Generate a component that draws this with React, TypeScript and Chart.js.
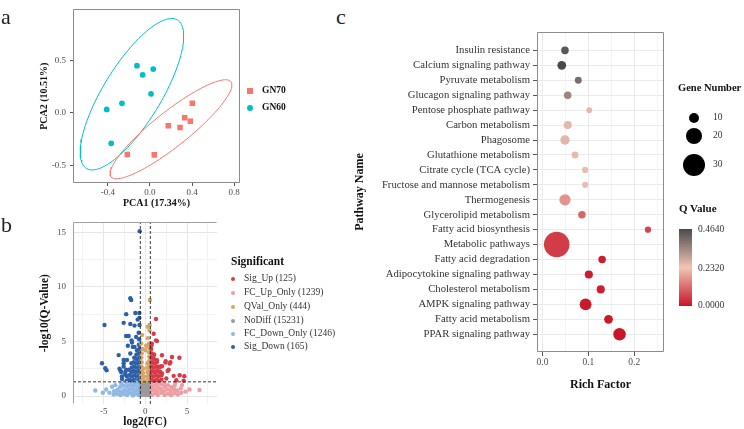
import React, { useEffect, useRef } from 'react';
import { Chart, registerables } from 'chart.js';

const SERIF = "'Liberation Serif', 'Times New Roman', serif";

// ---------------- Panel a: PCA ----------------
const pcaGroups = ['GN70', 'GN60'];
const pcaColors = ['#F8766D', '#00BFC4'];
const gn70PC1 = [0.403, 0.33, 0.384, 0.174, 0.286, -0.216, 0.041];
const gn70PC2 = [0.092, -0.046, -0.08, -0.122, -0.14, -0.397, -0.401];
const gn60PC1 = [-0.124, 0.031, -0.07, 0.01, -0.267, -0.412, -0.369];
const gn60PC2 = [0.452, 0.419, 0.364, 0.183, 0.092, 0.034, -0.291];
const pcaXTicks = [-0.4, 0, 0.4, 0.8];
const pcaYTicks = [-0.5, 0, 0.5];

// ---------------- Panel b: volcano ----------------
type Pt = [number, number];
const sigUp: Pt[] = [
  [0.75, 1.5], [0.72, 1.9], [0.78, 2.3], [0.74, 2.7], [0.77, 3.1], [0.73, 3.5], [0.76, 3.9], [0.71, 4.3], [0.78, 4.8],
  [1.05, 1.4], [1.02, 1.8], [1.08, 2.2], [1.04, 2.6], [1.07, 3.0], [1.03, 3.4], [1.06, 3.8],
  [1.35, 1.5], [1.32, 1.9], [1.38, 2.3], [1.34, 2.7], [1.37, 3.1],
  [1.65, 1.4], [1.62, 1.8], [1.68, 2.2], [1.64, 2.6], [1.95, 1.5], [1.92, 1.9],
  [1.28, 7.06], [1.4, 5.03], [1.28, 5.1], [0.72, 4.64], [1.0, 5.7], [4.08, 3.5], [3.2, 3.57], [3.0, 3.1],
  [2.4, 3.06], [2.45, 3.2], [2.8, 2.4], [2.68, 2.3], [1.8, 2.7], [2.0, 2.73], [3.4, 1.85], [4.68, 1.82],
  [4.12, 1.9], [3.72, 1.45], [4.6, 1.4], [2.0, 2.06], [2.52, 1.6], [2.0, 3.73], [2.92, 2.97], [1.8, 2.2],
  [1.0, 3.73], [1.4, 3.27], [1.6, 2.67],
];
const fcUpOnly: Pt[] = [
  [0.8, 0.1], [0.78, 0.5], [0.82, 0.85], [0.75, 1.2], [1.15, 0.25], [1.12, 0.6], [1.18, 1.0],
  [1.5, 0.1], [1.45, 0.45], [1.52, 0.8], [1.48, 1.2], [1.9, 0.3], [1.88, 0.65], [1.92, 1.05],
  [2.3, 0.1], [2.25, 0.45], [2.32, 0.85], [2.28, 1.2], [2.7, 0.2], [2.65, 0.6], [2.72, 1.0],
  [3.1, 0.1], [3.05, 0.45], [3.12, 0.8], [3.5, 0.25], [3.45, 0.6], [3.52, 0.95],
  [3.9, 0.15], [3.85, 0.5], [4.3, 0.3], [4.25, 0.7],
  [4.8, 0.4], [5.3, 0.6], [6.5, 0.55], [4.4, 1.0], [3.6, 1.2],
];
const qvalOnly: Pt[] = [
  [-0.45, 1.5], [-0.48, 1.9], [-0.42, 2.3], [-0.46, 2.7], [-0.44, 3.1], [-0.47, 3.5], [-0.43, 3.9],
  [-0.25, 1.4], [-0.22, 1.75], [-0.27, 2.1], [-0.24, 2.5],
  [0.25, 1.45], [0.22, 1.8], [0.27, 2.2], [0.24, 2.6], [0.26, 3.0],
  [0.45, 1.6], [0.48, 2.0], [0.43, 2.4], [0.46, 2.8], [0.44, 3.2], [0.47, 3.6], [0.42, 4.0], [0.46, 4.4], [0.44, 4.8],
  [-0.35, 4.3], [-0.5, 4.8], [0.3, 5.3], [0.5, 6.0], [0.52, 6.5], [0.28, 6.35], [0.55, 8.8], [-0.4, 5.6], [0.1, 4.6], [0.0, 4.2],
];
const noDiff: Pt[] = [
  [-0.5, 0.1], [-0.2, 0.12], [0.1, 0.08], [0.45, 0.1], [-0.35, 0.35], [0.02, 0.32], [0.3, 0.38], [0.52, 0.42],
  [-0.52, 0.6], [-0.15, 0.62], [0.15, 0.58], [0.45, 0.65], [-0.4, 0.88], [-0.05, 0.85], [0.25, 0.9], [0.5, 0.92],
  [-0.5, 1.15], [-0.2, 1.12], [0.1, 1.18], [0.4, 1.1], [-0.3, 0.2], [0.25, 0.2], [-0.1, 0.45], [0.35, 1.22],
];
const fcDownOnly: Pt[] = [
  [-0.8, 0.1], [-0.78, 0.45], [-0.82, 0.8], [-0.75, 1.15], [-1.15, 0.2], [-1.12, 0.55], [-1.18, 0.95], [-1.1, 1.25],
  [-1.5, 0.05], [-1.45, 0.4], [-1.52, 0.75], [-1.48, 1.1], [-1.85, 0.25], [-1.88, 0.6], [-1.82, 1.0],
  [-2.2, 0.1], [-2.25, 0.45], [-2.18, 0.85], [-2.22, 1.2], [-2.6, 0.2], [-2.55, 0.55], [-2.62, 0.95],
  [-3.0, 0.1], [-2.95, 0.4], [-3.05, 0.8], [-2.9, 1.15], [-3.4, 0.2], [-3.35, 0.55], [-3.8, 0.15], [-3.75, 0.45],
  [-4.3, 0.3], [-4.0, 0.85], [-5.1, 0.3], [-6.0, 0.5], [-4.7, 0.6], [-3.6, 1.0],
];
const sigDown: Pt[] = [
  [-0.75, 1.5], [-0.72, 1.9], [-0.78, 2.3], [-0.74, 2.7], [-0.77, 3.1], [-0.73, 3.5], [-0.76, 3.9], [-0.71, 4.3], [-0.78, 4.7], [-0.74, 5.2], [-0.8, 5.8],
  [-1.05, 1.4], [-1.02, 1.8], [-1.08, 2.2], [-1.04, 2.6], [-1.07, 3.0], [-1.03, 3.4], [-1.06, 3.8], [-1.0, 4.2],
  [-1.35, 1.5], [-1.32, 1.9], [-1.38, 2.3], [-1.34, 2.7], [-1.37, 3.1], [-1.33, 3.5],
  [-1.65, 1.4], [-1.62, 1.8], [-1.68, 2.2], [-1.64, 2.6], [-1.67, 3.0], [-1.95, 1.5], [-1.92, 1.9], [-1.98, 2.4], [-2.25, 1.4], [-2.22, 1.8],
  [-0.68, 15.1], [-1.8, 8.95], [-1.7, 8.8], [-2.3, 7.5], [-0.72, 7.6], [-1.2, 7.6], [-0.72, 7.15], [-0.92, 7.0],
  [-4.9, 6.5], [-2.6, 6.7], [-1.8, 6.6], [-1.3, 6.45], [-0.7, 6.5], [-2.3, 5.5], [-2.0, 5.5], [-1.65, 5.1],
  [-1.1, 5.4], [-1.6, 4.9], [-2.1, 4.6], [-1.5, 4.5], [-1.3, 4.5], [-3.2, 3.75], [-1.8, 3.9], [-2.6, 3.3],
  [-2.2, 3.3], [-5.2, 3.0], [-2.6, 3.0], [-4.8, 2.55], [-4.65, 2.35], [-3.0, 2.35], [-2.9, 2.2], [-3.1, 2.5],
  [-2.6, 2.7], [-2.4, 2.2], [-2.3, 2.4], [-2.8, 1.8], [-2.8, 1.55], [-2.4, 2.0],
];
const volcanoNames = ['Sig_Up (125)', 'FC_Up_Only (1239)', 'QVal_Only (444)', 'NoDiff (15231)', 'FC_Down_Only (1246)', 'Sig_Down (165)'];
const volcanoColors = ['#D93A48', '#EE9DA3', '#D4A66A', '#9A9A9A', '#8FB8E6', '#2D60A8'];
const volcanoSets = [sigUp, fcUpOnly, qvalOnly, noDiff, fcDownOnly, sigDown];
const fcCut = 0.6;
const qCut = 1.3;
const volXMajor = [-5, 0, 5];
const volXMinor = [-7.5, -2.5, 2.5, 7.5];
const volYMajor = [0, 5, 10, 15];
const volYMinor = [2.5, 7.5, 12.5];

// ---------------- Panel c: KEGG bubble ----------------
const pathways = [
  'Insulin resistance', 'Calcium signaling pathway', 'Pyruvate metabolism', 'Glucagon signaling pathway',
  'Pentose phosphate pathway', 'Carbon metabolism', 'Phagosome', 'Glutathione metabolism',
  'Citrate cycle (TCA cycle)', 'Fructose and mannose metabolism', 'Thermogenesis', 'Glycerolipid metabolism',
  'Fatty acid biosynthesis', 'Metabolic pathways', 'Fatty acid degradation', 'Adipocytokine signaling pathway',
  'Cholesterol metabolism', 'AMPK signaling pathway', 'Fatty acid metabolism', 'PPAR signaling pathway',
];
const richFactor = [0.049, 0.042, 0.078, 0.055, 0.102, 0.055, 0.049, 0.071, 0.093, 0.093, 0.049, 0.086, 0.23, 0.031, 0.13, 0.101, 0.127, 0.094, 0.144, 0.168];
const geneNumber = [6, 8, 5, 6, 3, 7, 9, 5, 4, 4, 12, 6, 4, 35, 6, 7, 7, 13, 8, 14];
const qValue = [0.44, 0.464, 0.397, 0.352, 0.255, 0.252, 0.258, 0.25, 0.244, 0.246, 0.167, 0.107, 0.062, 0.053, 0.012, 0.012, 0.016, 0.006, 0.008, 0.004];
const geneLegend = [10, 20, 30];
const qLegend = ['0.4640', '0.2320', '0.0000'];
const richXMajor = [0, 0.1, 0.2];
const richXMinor = [0.05, 0.15, 0.25];

// ---------------- helpers ----------------
const Q_LOW = [200, 20, 40];
const Q_MID = [241, 197, 181];
const Q_HIGH = [74, 74, 74];
const Q_MAX = 0.464;
const rgb = (c: number[]) => `rgb(${c.map((v) => Math.round(v)).join(',')})`;
const mix = (a: number[], b: number[], t: number) => a.map((v, i) => v + (b[i] - v) * t);
function qColor(q: number) {
  const m = Q_MAX / 2;
  if (q <= m) return rgb(mix(Q_LOW, Q_MID, q / m));
  return rgb(mix(Q_MID, Q_HIGH, Math.min(1, (q - m) / m)));
}
const sizeFromGenes = (n: number) => 1.9 + 0.31 * n;
const isIn = (arr: number[], v: number) => arr.some((a) => Math.abs(a - v) < 1e-9);

function ellipse(xs: number[], ys: number[], k: number) {
  const n = xs.length;
  const mx = xs.reduce((s, v) => s + v, 0) / n;
  const my = ys.reduce((s, v) => s + v, 0) / n;
  let sxx = 0, syy = 0, sxy = 0;
  for (let i = 0; i < n; i++) {
    const dx = xs[i] - mx, dy = ys[i] - my;
    sxx += dx * dx; syy += dy * dy; sxy += dx * dy;
  }
  sxx /= n - 1; syy /= n - 1; sxy /= n - 1;
  const tr = sxx + syy, det = sxx * syy - sxy * sxy;
  const disc = Math.sqrt(Math.max(0, (tr * tr) / 4 - det));
  const l1 = tr / 2 + disc, l2 = tr / 2 - disc;
  const th = 0.5 * Math.atan2(2 * sxy, sxx - syy);
  const a = k * Math.sqrt(l1), b = k * Math.sqrt(Math.max(l2, 0));
  const pts: { x: number; y: number }[] = [];
  for (let i = 0; i <= 120; i++) {
    const t = (i / 120) * Math.PI * 2;
    pts.push({
      x: mx + a * Math.cos(t) * Math.cos(th) - b * Math.sin(t) * Math.sin(th),
      y: my + a * Math.cos(t) * Math.sin(th) + b * Math.sin(t) * Math.cos(th),
    });
  }
  return pts;
}

const framePlugin = {
  id: 'frame',
  afterDatasetsDraw(chart: any, _args: any, opts: any) {
    if (!opts || !opts.sides) return;
    const { left, top, right, bottom } = chart.chartArea;
    const ctx = chart.ctx;
    const L = Math.round(left) + 0.5, T = Math.round(top) + 0.5, R = Math.round(right) - 0.5, B = Math.round(bottom) - 0.5;
    ctx.save();
    ctx.strokeStyle = opts.color || '#888';
    ctx.lineWidth = 1;
    ctx.beginPath();
    for (const s of opts.sides) {
      if (s === 'top') { ctx.moveTo(L, T); ctx.lineTo(R, T); }
      if (s === 'bottom') { ctx.moveTo(L, B); ctx.lineTo(R, B); }
      if (s === 'left') { ctx.moveTo(L, T); ctx.lineTo(L, B); }
      if (s === 'right') { ctx.moveTo(R, T); ctx.lineTo(R, B); }
    }
    ctx.stroke();
    ctx.restore();
  },
};

Chart.register(...registerables, framePlugin);

const font = (size: number, bold = false) => ({ family: SERIF, size, weight: bold ? 'bold' : 'normal' });

// ---------------- chart configs ----------------
function pcaConfig(): any {
  const pts = (xs: number[], ys: number[]) => xs.map((x, i) => ({ x, y: ys[i] }));
  return {
    type: 'scatter',
    data: {
      datasets: [
        { label: pcaGroups[0], data: pts(gn70PC1, gn70PC2), pointStyle: 'rect', pointRadius: 3.9, backgroundColor: pcaColors[0], borderWidth: 0 },
        { label: pcaGroups[1], data: pts(gn60PC1, gn60PC2), pointStyle: 'circle', pointRadius: 2.9, backgroundColor: pcaColors[1], borderWidth: 0 },
        { label: 'e70', data: ellipse(gn70PC1, gn70PC2, 2.6), showLine: true, pointRadius: 0, borderColor: pcaColors[0], borderWidth: 1, fill: false },
        { label: 'e60', data: ellipse(gn60PC1, gn60PC2, 2.75), showLine: true, pointRadius: 0, borderColor: pcaColors[1], borderWidth: 1, fill: false },
      ],
    },
    options: {
      responsive: false, animation: false, events: [],
      layout: { padding: { top: 2, right: 10, left: 0, bottom: 0 } },
      plugins: { legend: { display: false }, tooltip: { enabled: false }, frame: { sides: ['top', 'bottom', 'left', 'right'], color: '#8c8c8c' } },
      scales: {
        x: {
          type: 'linear', min: -0.733, max: 0.857,
          afterFit: (s: any) => { s.height = 32; },
          afterBuildTicks: (s: any) => { s.ticks = pcaXTicks.map((v) => ({ value: v })); },
          ticks: { callback: (v: number) => v.toFixed(1), font: font(9), color: '#4d4d4d', padding: 1, maxRotation: 0, autoSkip: false },
          grid: { display: true, drawOnChartArea: false, tickLength: 3, tickColor: '#555' },
          border: { display: false },
          title: { display: true, text: 'PCA1 (17.34%)', font: font(10, true), color: '#111', padding: { top: 0, bottom: 6 } },
        },
        y: {
          type: 'linear', min: -0.67, max: 0.99,
          afterFit: (s: any) => { s.width = 73; },
          afterBuildTicks: (s: any) => { s.ticks = pcaYTicks.map((v) => ({ value: v })); },
          ticks: { callback: (v: number) => v.toFixed(1), font: font(9), color: '#4d4d4d', padding: 4, autoSkip: false },
          grid: { display: true, drawOnChartArea: false, tickLength: 3, tickColor: '#555' },
          border: { display: false },
          title: { display: true, text: 'PCA2 (10.51%)', font: font(10, true), color: '#111', padding: { top: 38, bottom: 0 } },
        },
      },
    },
  };
}

function volcanoConfig(): any {
  const yMin = -0.73, yMax = 15.9, xMin = -8.68, xMax = 8.6;
  const dash = (data: any[]) => ({ data, showLine: true, pointRadius: 0, borderColor: '#222', borderWidth: 0.9, borderDash: [3, 2], fill: false });
  return {
    type: 'scatter',
    data: {
      datasets: [
        dash([{ x: -fcCut, y: yMin }, { x: -fcCut, y: yMax }]),
        dash([{ x: fcCut, y: yMin }, { x: fcCut, y: yMax }]),
        dash([{ x: xMin, y: qCut }, { x: xMax, y: qCut }]),
        ...volcanoSets.map((set, i) => ({
          label: volcanoNames[i],
          data: set.map(([x, y]) => ({ x, y })),
          pointRadius: 2.2, backgroundColor: volcanoColors[i], borderWidth: 0,
        })),
      ],
    },
    options: {
      responsive: false, animation: false, events: [],
      layout: { padding: { top: 11, right: 13, left: 0, bottom: 0 } },
      plugins: { legend: { display: false }, tooltip: { enabled: false }, frame: { sides: ['top', 'left'], color: '#a0a0a0' } },
      scales: {
        x: {
          type: 'linear', min: xMin, max: xMax,
          afterFit: (s: any) => { s.height = 25; },
          afterBuildTicks: (s: any) => { s.ticks = [...volXMinor, ...volXMajor].sort((a, b) => a - b).map((v) => ({ value: v })); },
          ticks: { callback: (v: number) => (isIn(volXMajor, v) ? String(v) : ''), font: font(9), color: '#4d4d4d', padding: 2, maxRotation: 0, autoSkip: false },
          grid: { drawTicks: false, color: (c: any) => (c.tick && isIn(volXMinor, c.tick.value) ? '#F2F2F2' : '#E6E6E6') },
          border: { display: false },
          title: { display: true, text: 'log2(FC)', font: font(11.5, true), color: '#111', padding: { top: 0, bottom: 0 } },
        },
        y: {
          type: 'linear', min: yMin, max: yMax,
          afterFit: (s: any) => { s.width = 73; },
          afterBuildTicks: (s: any) => { s.ticks = [...volYMinor, ...volYMajor].sort((a, b) => a - b).map((v) => ({ value: v })); },
          ticks: { callback: (v: number) => (isIn(volYMajor, v) ? String(v) : ''), font: font(9), color: '#4d4d4d', padding: 7, autoSkip: false },
          grid: { drawTicks: false, color: (c: any) => (c.tick && isIn(volYMinor, c.tick.value) ? '#F2F2F2' : '#E6E6E6') },
          border: { display: false },
          title: { display: true, text: '-log10(Q-Value)', font: font(11.5, true), color: '#111', padding: { top: 38, bottom: 0 } },
        },
      },
    },
  };
}

function bubbleConfig(): any {
  return {
    type: 'bubble',
    data: {
      datasets: [{
        label: 'KEGG',
        data: pathways.map((_, i) => ({ x: richFactor[i], y: i, r: sizeFromGenes(geneNumber[i]) })),
        backgroundColor: qValue.map(qColor),
        borderWidth: 0,
      }],
    },
    options: {
      responsive: false, animation: false, events: [],
      layout: { padding: { top: 32, right: 16, left: 0, bottom: 0 } },
      plugins: { legend: { display: false }, tooltip: { enabled: false }, frame: { sides: ['top', 'bottom', 'left', 'right'], color: '#8c8c8c' } },
      scales: {
        x: {
          type: 'linear', min: -0.012, max: 0.265,
          afterFit: (s: any) => { s.height = 77; },
          afterBuildTicks: (s: any) => { s.ticks = [...richXMajor, ...richXMinor].sort((a, b) => a - b).map((v) => ({ value: v })); },
          ticks: { callback: (v: number) => (isIn(richXMajor, v) ? v.toFixed(1) : ''), font: font(9.5), color: '#4d4d4d', padding: 1, maxRotation: 0, autoSkip: false },
          grid: {
            tickLength: 4,
            color: (c: any) => (c.tick && isIn(richXMinor, c.tick.value) ? '#F3F3F3' : '#EBEBEB'),
            tickColor: (c: any) => (c.tick && isIn(richXMinor, c.tick.value) ? 'rgba(0,0,0,0)' : '#555'),
          },
          border: { display: false },
          title: { display: true, text: 'Rich Factor', font: font(12, true), color: '#111', padding: { top: 0, bottom: 37 } },
        },
        y: {
          type: 'linear', reverse: true, min: -1.23, max: 20.19,
          afterFit: (s: any) => { s.width = 187; },
          afterBuildTicks: (s: any) => { s.ticks = pathways.map((_, i) => ({ value: i })); },
          ticks: { callback: (v: number) => pathways[v] ?? '', font: font(10.7), color: '#333', padding: 3, autoSkip: false },
          grid: { tickLength: 4, color: '#EBEBEB', tickColor: '#555' },
          border: { display: false },
          title: { display: true, text: 'Pathway Name', font: font(12, true), color: '#111', padding: { top: 3, bottom: 0 } },
        },
      },
    },
  };
}

function ChartCanvas({ left, top, width, height, make }: { left: number; top: number; width: number; height: number; make: () => any }) {
  const ref = useRef<HTMLCanvasElement>(null);
  useEffect(() => {
    const chart = new Chart(ref.current as HTMLCanvasElement, make());
    return () => chart.destroy();
  }, []);
  return <canvas ref={ref} width={width} height={height} style={{ position: 'absolute', left, top, width, height }} />;
}

function Txt({ x, y, size, bold, color = '#222', children }: { x: number; y: number; size: number; bold?: boolean; color?: string; children: React.ReactNode }) {
  return (
    <div style={{ position: 'absolute', left: x, top: y - size / 2, fontFamily: SERIF, fontSize: size, lineHeight: `${size}px`, fontWeight: bold ? 'bold' : 'normal', color, whiteSpace: 'nowrap' }}>
      {children}
    </div>
  );
}

export default function App() {
  const volItemsY = [279, 293, 307, 321, 334, 347];
  const geneY = [118, 136, 165];
  const qY = [230, 269, 306];
  return (
    <div style={{ position: 'absolute', left: 0, top: 0, width: 744, height: 429, background: '#fff', overflow: 'hidden' }}>
      <ChartCanvas left={0} top={0} width={250} height={215} make={pcaConfig} />
      <ChartCanvas left={0} top={210} width={230} height={219} make={volcanoConfig} />
      <ChartCanvas left={350} top={0} width={330} height={429} make={bubbleConfig} />

      <Txt x={1} y={17} size={22}>a</Txt>
      <Txt x={1} y={225} size={22}>b</Txt>
      <Txt x={336} y={17} size={22}>c</Txt>

      {/* Panel a legend */}
      {pcaGroups.map((g, i) => (
        <React.Fragment key={g}>
          <div style={{ position: 'absolute', left: 247, top: (i === 0 ? 91 : 108) - 3, width: 6, height: 6, background: pcaColors[i], borderRadius: i === 0 ? 0 : 3 }} />
          <Txt x={262} y={i === 0 ? 91 : 108} size={9.5} bold color="#111">{g}</Txt>
        </React.Fragment>
      ))}

      {/* Panel b legend */}
      <Txt x={231} y={262} size={11.5} bold color="#111">Significant</Txt>
      {volcanoNames.map((n, i) => (
        <React.Fragment key={n}>
          <div style={{ position: 'absolute', left: 231, top: volItemsY[i] - 2.2, width: 4.4, height: 4.4, borderRadius: 3, background: volcanoColors[i] }} />
          <Txt x={244} y={volItemsY[i]} size={9.5} color="#333">{n}</Txt>
        </React.Fragment>
      ))}

      {/* Panel c legends */}
      <Txt x={678} y={88} size={10.5} bold color="#111">Gene Number</Txt>
      {geneLegend.map((g, i) => {
        const r = sizeFromGenes(g);
        return (
          <React.Fragment key={g}>
            <div style={{ position: 'absolute', left: 694 - r, top: geneY[i] - r, width: 2 * r, height: 2 * r, borderRadius: '50%', background: '#000' }} />
            <Txt x={713} y={geneY[i]} size={9.5} color="#333">{String(g)}</Txt>
          </React.Fragment>
        );
      })}
      <Txt x={679} y={208} size={11} bold color="#111">Q Value</Txt>
      <div style={{ position: 'absolute', left: 679, top: 229, width: 13, height: 77, background: `linear-gradient(to bottom, ${rgb(Q_HIGH)}, ${rgb(Q_MID)}, ${rgb(Q_LOW)})` }} />
      {qLegend.map((q, i) => (
        <Txt key={q} x={698} y={qY[i]} size={9.5} color="#333">{q}</Txt>
      ))}
    </div>
  );
}
